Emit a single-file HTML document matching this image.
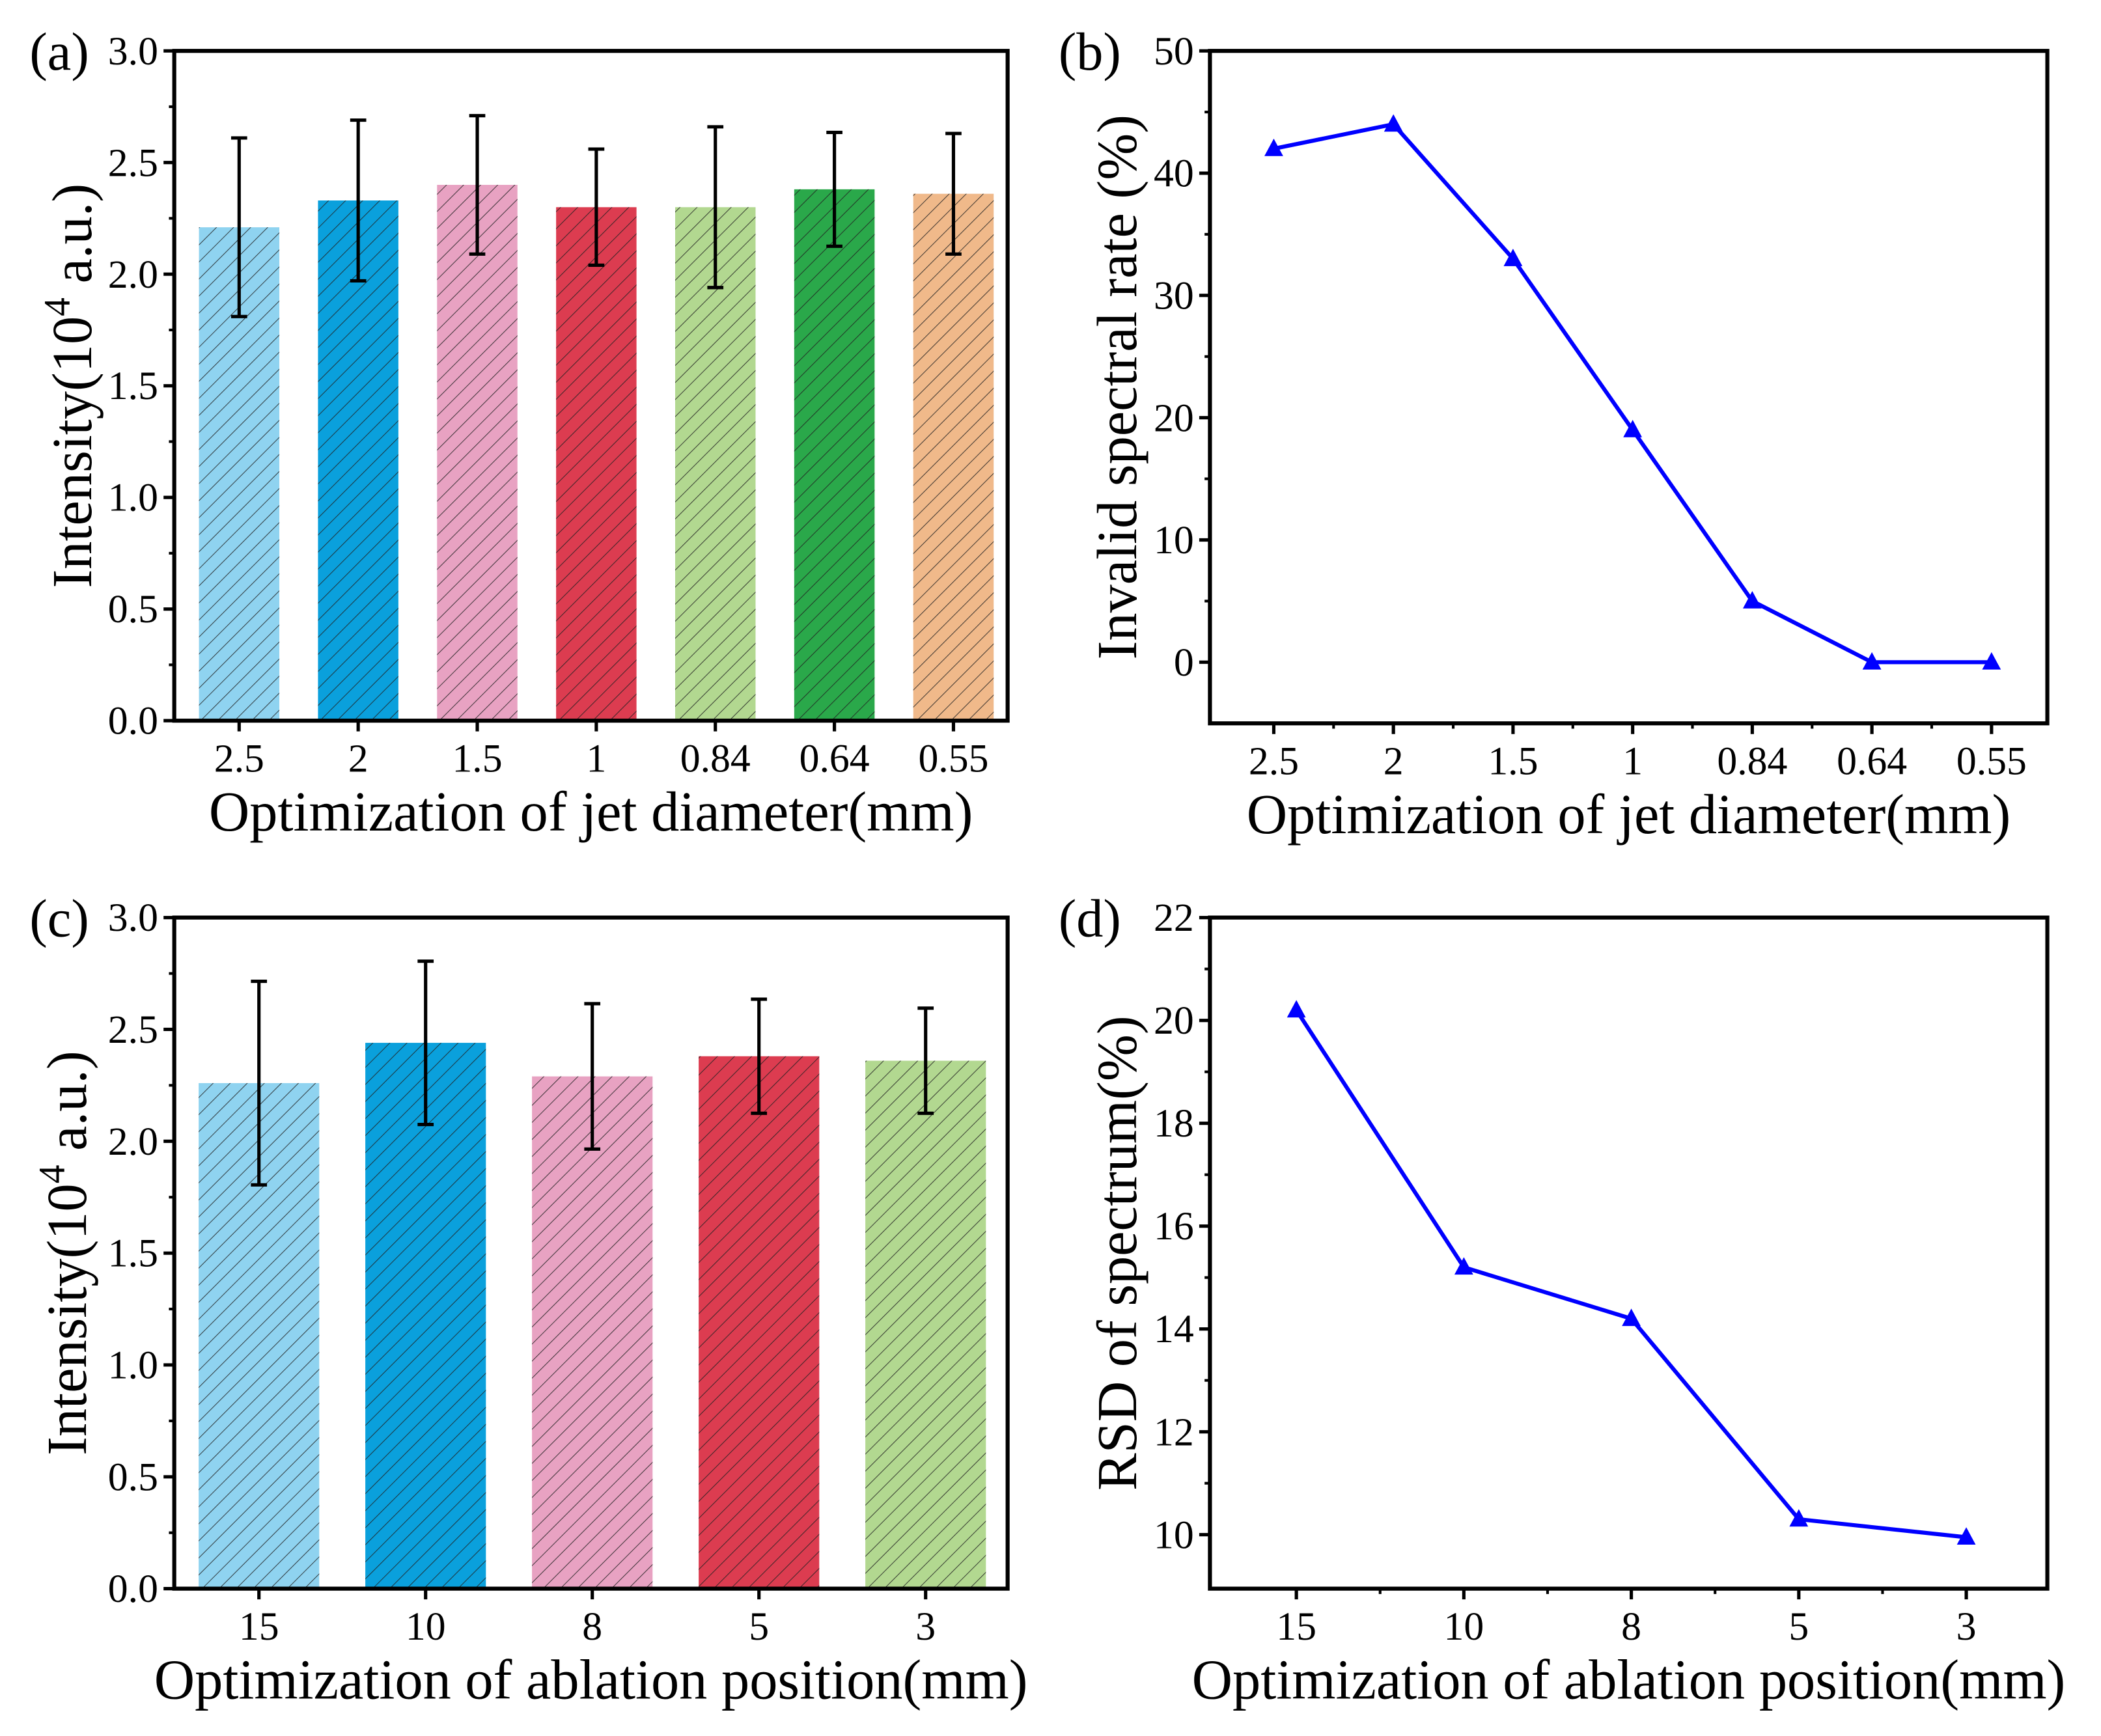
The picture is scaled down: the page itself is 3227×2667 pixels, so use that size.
<!DOCTYPE html>
<html><head><meta charset="utf-8"><style>
html,body{margin:0;padding:0;background:#fff;}
svg{display:block;font-family:"Liberation Serif",serif;}
</style></head><body>
<svg id="fig" width="3227" height="2667" viewBox="0 0 1568 1296" xmlns="http://www.w3.org/2000/svg">
<defs>
<pattern id="hatch" patternUnits="userSpaceOnUse" width="9" height="9" patternTransform="rotate(45)">
<line x1="0" y1="0" x2="0" y2="9" stroke="#222" stroke-width="1"/>
</pattern>
</defs>
</svg>
<script>
const catsA=["2.5","2","1.5","1","0.84","0.64","0.55"];
const valsA=[2.21,2.33,2.40,2.30,2.30,2.38,2.36];
const errA=[0.40,0.36,0.31,0.26,0.36,0.255,0.27];
const colA=["#8fd3f0","#0aa0dc","#e8a2c2","#dc3c50","#b2d890","#2aa84a","#f0b98a"];
const valsB=[42,44,33,19,5,0,0];
const catsC=["15","10","8","5","3"];
const valsC=[2.26,2.44,2.29,2.38,2.36];
const errC=[0.455,0.365,0.325,0.255,0.235];
const colC=["#8fd3f0","#0aa0dc","#e8a2c2","#dc3c50","#b2d890"];
const valsD=[20.2,15.2,14.2,10.3,9.95];
const ticksBar=[0,0.5,1.0,1.5,2.0,2.5,3.0];
const ticksB=[0,10,20,30,40,50];
const ticksD=[10,12,14,16,18,20,22];

const svg=document.getElementById('fig');
const NS="http://www.w3.org/2000/svg";
function el(tag,attrs,parent,text){const e=document.createElementNS(NS,tag);for(const k in attrs)e.setAttribute(k,attrs[k]);if(text!==undefined)e.textContent=text;(parent||svg).appendChild(e);return e;}

function panel(o){
  const g=el('g',{});
  
  
  const {x0,x1,y0,y1,ymin,ymax}=o;
  const ys=v=>y1-(v-ymin)/(ymax-ymin)*(y1-y0);
  const n=o.cats.length;
  const step=(x1-x0)/n;
  const xs=i=>x0+step*(i+0.5)+(o.xoff||0);
  if(o.bars){
    o.vals.forEach((v,i)=>{
      const b=el('rect',{x:xs(i)-o.bw/2,y:ys(v),width:o.bw,height:ys(ymin)-ys(v),fill:o.cols[i]},g);
      
      
      el('rect',{x:xs(i)-o.bw/2,y:ys(v),width:o.bw,height:ys(ymin)-ys(v),fill:'url(#hatch)',opacity:0.85},g);
      const e=o.errs[i];
      const eb=el('path',{d:`M${xs(i)-6},${ys(v+e)}H${xs(i)+6}M${xs(i)},${ys(v+e)}V${ys(v-e)}M${xs(i)-6},${ys(v-e)}H${xs(i)+6}`,stroke:'#000','stroke-width':2.5,fill:'none'},g);
      
      
    });
  } else {
    const pts=o.vals.map((v,i)=>xs(i)+','+ys(v)).join(' ');
    const ln=el('polyline',{points:pts,fill:'none',stroke:'#0000ff','stroke-width':3},g);
    
    
    o.vals.forEach((v,i)=>{
      const m=el('polygon',{points:`${xs(i)},${ys(v)-7.5} ${xs(i)-7},${ys(v)+5.5} ${xs(i)+7},${ys(v)+5.5}`,fill:'#0000ff'},g);
      
      
    });
  }
  const fr=el('rect',{x:x0,y:y0,width:x1-x0,height:y1-y0,fill:'none',stroke:'#000','stroke-width':3},g);
  
  
  o.yt.forEach((t,k)=>{
    el('line',{x1:x0-8,x2:x0,y1:ys(t),y2:ys(t),stroke:'#000','stroke-width':2.5},g);
    if(k<o.yt.length-1){const m=(t+o.yt[k+1])/2;el('line',{x1:x0-4,x2:x0,y1:ys(m),y2:ys(m),stroke:'#000','stroke-width':2},g);}
    const tl=el('text',{x:x0-12,y:ys(t)+10,'text-anchor':'end','font-size':30},g,o.fmt(t));
    
    
  });
  o.cats.forEach((c,i)=>{
    el('line',{x1:xs(i),x2:xs(i),y1:y1,y2:y1+8,stroke:'#000','stroke-width':2.5},g);
    if(!o.bars && i<n-1) el('line',{x1:xs(i)+step/2,x2:xs(i)+step/2,y1:y1,y2:y1+4,stroke:'#000','stroke-width':2},g);
    const tl=el('text',{x:xs(i),y:y1+38,'text-anchor':'middle','font-size':30},g,c);
    
    
  });
  const xt=el('text',{x:(x0+x1)/2,y:y1+82,'text-anchor':'middle','font-size':42},g,o.xtitle);
  
  
  const cy=(y0+y1)/2;
  const yt=el('text',{x:o.ytx,y:cy,'text-anchor':'middle','font-size':42,transform:`rotate(-90 ${o.ytx} ${cy})`},g);
  
  
  if(o.bars){
    el('tspan',{},yt,'Intensity(10');
    el('tspan',{dy:-16,'font-size':28},yt,'4');
    el('tspan',{dy:16},yt,' a.u.)');
  } else yt.textContent=o.ytitle;
  const pl=el('text',{x:o.lx,y:y0+14,'font-size':40},g,o.label);
  
  
}
const f1=t=>t.toFixed(1), f0=t=>String(t);
panel({name:'panel-a',x0:130,x1:752,y0:38,y1:538,ymin:0,ymax:3,cats:catsA,vals:valsA,errs:errA,cols:colA,bars:true,bw:60,xoff:4,yt:ticksBar,fmt:f1,xtitle:'Optimization of jet diameter(mm)',ytx:68,label:'(a)',lx:22});
panel({name:'panel-b',x0:903,x1:1528,y0:38,y1:540,ymin:-5,ymax:50,cats:catsA,vals:valsB,bars:false,xoff:3,yt:ticksB,fmt:f0,xtitle:'Optimization of jet diameter(mm)',ytitle:'Invalid spectral rate (%)',ytx:848,label:'(b)',lx:790});
panel({name:'panel-c',x0:130,x1:752,y0:685,y1:1186,ymin:0,ymax:3,cats:catsC,vals:valsC,errs:errC,cols:colC,bars:true,bw:90,xoff:1,yt:ticksBar,fmt:f1,xtitle:'Optimization of ablation position(mm)',ytx:64,label:'(c)',lx:22});
panel({name:'panel-d',x0:903,x1:1528,y0:685,y1:1186,ymin:8.95,ymax:22,cats:catsC,vals:valsD,bars:false,xoff:2,yt:ticksD,fmt:f0,xtitle:'Optimization of ablation position(mm)',ytitle:'RSD of spectrum(%)',ytx:848,label:'(d)',lx:790});
</script>
</body></html>
